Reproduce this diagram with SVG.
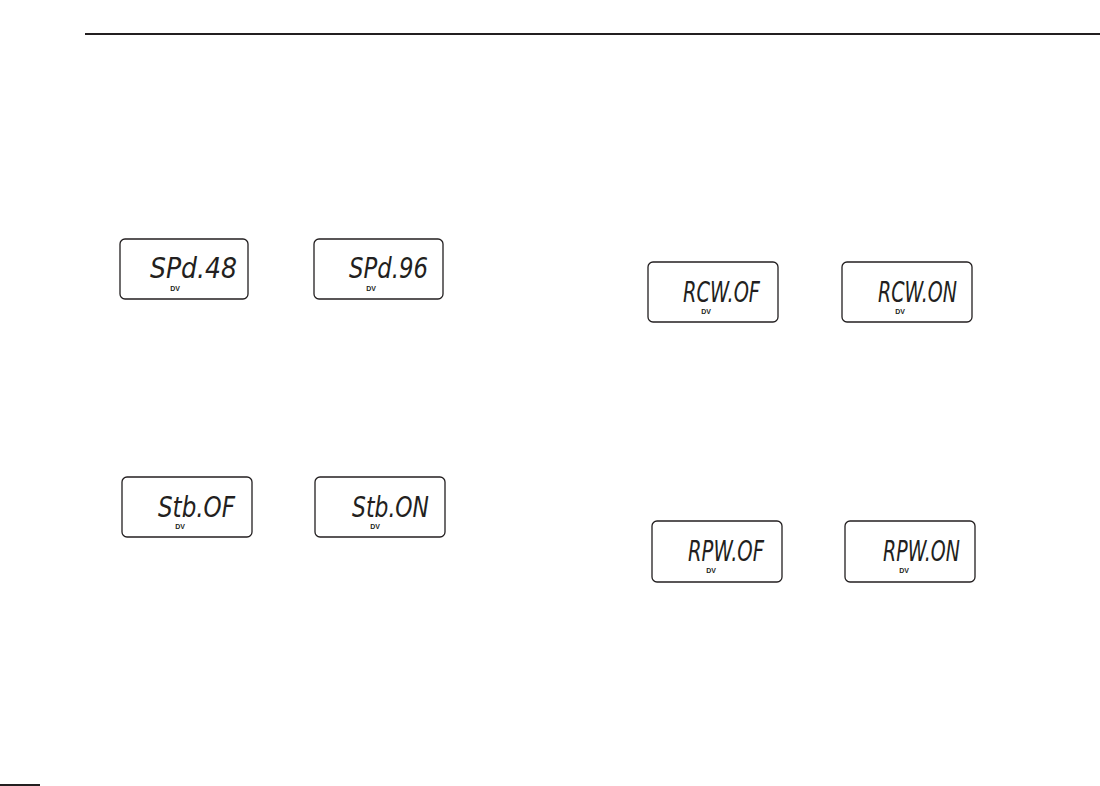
<svg xmlns="http://www.w3.org/2000/svg" width="1100" height="786" viewBox="0 0 1100 786">
<style>
.box{fill:#fff;stroke:#231f20;stroke-width:1.3}
.lcd{font-family:"DejaVu Sans","Liberation Sans",sans-serif;font-style:italic;font-weight:200;font-size:29px;fill:#231f20}
.dv{font-family:"Liberation Sans",sans-serif;font-weight:bold;font-size:7px;fill:#231f20;text-anchor:middle}
.rule{stroke:#231f20;stroke-width:2}
</style>
<rect width="1100" height="786" fill="#fff"/>
<line class="rule" x1="85" y1="34" x2="1100" y2="34"/>
<line class="rule" x1="0" y1="785" x2="40" y2="785"/>
<g id="d1"><rect class="box" x="120" y="239" width="128" height="60" rx="5"/><text class="lcd" x="150" y="278" textLength="87" lengthAdjust="spacingAndGlyphs">SPd.48</text><text class="dv" x="175" y="291">DV</text></g>
<g id="d2"><rect class="box" x="314" y="239" width="129" height="60" rx="5"/><text class="lcd" x="349" y="278" textLength="79" lengthAdjust="spacingAndGlyphs">SPd.96</text><text class="dv" x="371" y="291">DV</text></g>
<g id="d3"><rect class="box" x="648" y="262" width="130" height="60" rx="5"/><text class="lcd" x="683" y="302" textLength="77" lengthAdjust="spacingAndGlyphs">RCW.OF</text><text class="dv" x="706" y="314">DV</text></g>
<g id="d4"><rect class="box" x="842" y="262" width="130" height="60" rx="5"/><text class="lcd" x="878" y="302" textLength="79" lengthAdjust="spacingAndGlyphs">RCW.ON</text><text class="dv" x="900" y="314">DV</text></g>
<g id="d5"><rect class="box" x="122" y="477" width="130" height="60" rx="5"/><text class="lcd" x="158" y="517" textLength="77" lengthAdjust="spacingAndGlyphs">Stb.OF</text><text class="dv" x="180" y="529">DV</text></g>
<g id="d6"><rect class="box" x="315" y="477" width="130" height="60" rx="5"/><text class="lcd" x="352" y="517" textLength="77" lengthAdjust="spacingAndGlyphs">Stb.ON</text><text class="dv" x="375" y="529">DV</text></g>
<g id="d7"><rect class="box" x="652" y="521" width="130" height="61" rx="5"/><text class="lcd" x="688" y="561" textLength="76" lengthAdjust="spacingAndGlyphs">RPW.OF</text><text class="dv" x="711" y="573">DV</text></g>
<g id="d8"><rect class="box" x="845" y="521" width="130" height="61" rx="5"/><text class="lcd" x="883" y="561" textLength="77" lengthAdjust="spacingAndGlyphs">RPW.ON</text><text class="dv" x="904" y="573">DV</text></g>
</svg>
